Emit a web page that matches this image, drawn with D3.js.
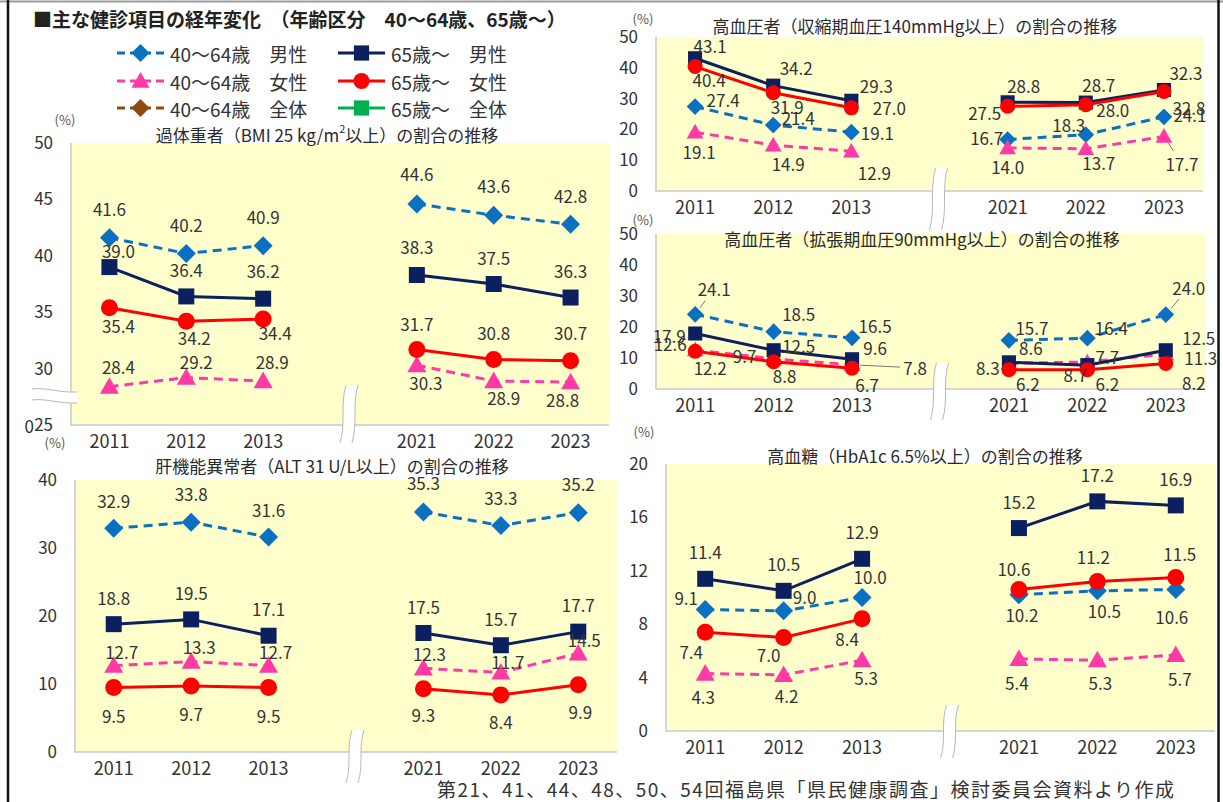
<!DOCTYPE html>
<html lang="ja">
<head>
<meta charset="UTF-8">
<title>主な健診項目の経年変化</title>
<style>
body{margin:0;background:#fff;}
svg{display:block;font-family:"Noto Sans CJK JP","Noto Sans",sans-serif;}
</style>
</head>
<body>
<script src="https://cdn.jsdelivr.net/npm/d3@7/dist/d3.min.js"></script>
<script>
// ---- data ----
var years=["2011","2012","2013","2021","2022","2023"];
var xSlots=["2011","2012","2013","gap","2021","2022","2023"];

var legendLabels=["40～64歳　男性","65歳～　男性","40～64歳　女性","65歳～　女性","40～64歳　全体","65歳～　全体"];

var bmiMale4064=[41.6,40.2,40.9,44.6,43.6,42.8];
var bmiMale65=[39.0,36.4,36.2,38.3,37.5,36.3];
var bmiFemale4064=[28.4,29.2,28.9,30.3,28.9,28.8];
var bmiFemale65=[35.4,34.2,34.4,31.7,30.8,30.7];
var bmiTicks=[25,30,35,40,45,50];

var sbpMale4064=[27.4,21.4,19.1,16.7,18.3,24.1];
var sbpMale65=[43.1,34.2,29.3,28.8,28.7,32.8];
var sbpFemale4064=[19.1,14.9,12.9,14.0,13.7,17.7];
var sbpFemale65=[40.4,31.9,27.0,27.5,28.0,32.3];
var sbpTicks=[0,10,20,30,40,50];

var dbpMale4064=[24.1,18.5,16.5,15.7,16.4,24.0];
var dbpMale65=[17.9,12.5,9.6,8.6,7.7,12.5];
var dbpFemale4064=[12.6,9.7,7.8,8.3,8.7,11.3];
var dbpFemale65=[12.2,8.8,6.7,6.2,6.2,8.2];
var dbpTicks=[0,10,20,30,40,50];

var altMale4064=[32.9,33.8,31.6,35.3,33.3,35.2];
var altMale65=[18.8,19.5,17.1,17.5,15.7,17.7];
var altFemale4064=[12.7,13.3,12.7,12.3,11.7,14.5];
var altFemale65=[9.5,9.7,9.5,9.3,8.4,9.9];
var altTicks=[0,10,20,30,40];

var hbaMale4064=[9.1,9.0,10.0,10.2,10.5,10.6];
var hbaMale65=[11.4,10.5,12.9,15.2,17.2,16.9];
var hbaFemale4064=[4.3,4.2,5.3,5.4,5.3,5.7];
var hbaFemale65=[7.4,7.0,8.4,10.6,11.2,11.5];
var hbaTicks=[0,4,8,12,16,20];

var mainTitle="■主な健診項目の経年変化　（年齢区分　40～64歳、65歳～）";
var footNote="第21、41、44、48、50、54回福島県「県民健康調査」検討委員会資料より作成";

// ---- styles ----
var styles={
	m4064:{color:"#0b6fc2",dash:"9,6",shape:"diamond"},
	m65:{color:"#0c1f5e",dash:null,shape:"square"},
	f4064:{color:"#ff3aa6",dash:"9,6",shape:"triangle"},
	f65:{color:"#ff0000",dash:null,shape:"circle"},
	t4064:{color:"#8f4a12",dash:"9,6",shape:"diamond"},
	t65:{color:"#00b050",dash:null,shape:"square"}
};
var legendKeys=["m4064","m65","f4064","f65","t4064","t65"];
var drawOrder=["m4064","f4064","m65","f65"];
var textColor="#333";

function markerPath(shape,k){
	k=k||1;
	if(shape=="diamond"){var a=9.5*k;return "M0,"+(-a)+"L"+a+",0L0,"+a+"L"+(-a)+",0Z";}
	if(shape=="square"){var s=8*k;return "M"+(-s)+","+(-s)+"H"+s+"V"+s+"H"+(-s)+"Z";}
	if(shape=="triangle"){var t=9.5*k;return "M0,"+(-t)+"L"+t+","+(t*0.75)+"L"+(-t)+","+(t*0.75)+"Z";}
	var r=8.5*k;
	return "M"+r+",0A"+r+","+r+" 0 1,1 "+(-r)+",0A"+r+","+r+" 0 1,1 "+r+",0Z";
}

var svg=d3.select("body").append("svg")
	.attr("width",1223)
	.attr("height",802);

svg.append("rect").attr("width",1223).attr("height",802).attr("fill","#fff");

// ---- panels ----
var panels=[
	{
		left:71,right:609,top:143,bottom:425,domain:[25,50],ticks:bmiTicks,
		title:["過体重者（BMI 25 kg/m","2","以上）の割合の推移"],titleX:327,titleY:134,
		pctX:65,pctY:119,brk:[-40,18],mk:1,
		series:{m4064:bmiMale4064,m65:bmiMale65,f4064:bmiFemale4064,f65:bmiFemale65},
		offsets:{
			m4064:[[0,-29],[0,-29],[0,-29],[0,-30],[0,-30],[0,-29]],
			m65:[[9,-17],[0,-27],[0,-28],[0,-28],[0,-27],[0,-27]],
			f65:[[9,18],[8,16],[12,14],[0,-26],[0,-27],[0,-28]],
			f4064:[[9,-20],[10,-16],[9,-20],[9,17],[10,16],[-8,17]]
		},
		leaders:{}
	},
	{
		left:75,right:617,top:480,bottom:752,domain:[0,40],ticks:altTicks,
		title:["肝機能異常者（ALT 31 U/L以上）の割合の推移"],titleX:332,titleY:465,
		pctX:55,pctY:442,brk:[-22,31],mk:1,
		series:{m4064:altMale4064,m65:altMale65,f4064:altFemale4064,f65:altFemale65},
		offsets:{
			m4064:[[0,-28],[0,-29],[0,-28],[0,-29],[0,-28],[0,-29]],
			m65:[[0,-27],[0,-27],[0,-27],[0,-27],[0,-27],[0,-27]],
			f4064:[[8,-14],[8,-15],[7,-14],[6,-15],[7,-11],[6,-14]],
			f65:[[0,28],[0,27],[0,28],[0,26],[0,27],[2,27]]
		},
		leaders:{}
	},
	{
		left:656,right:1203,top:37,bottom:191,domain:[0,50],ticks:sbpTicks,
		title:["高血圧者（収縮期血圧140mmHg以上）の割合の推移"],titleX:915,titleY:25,
		pctX:643,pctY:18,brk:[-23,39],mk:0.88,
		series:{m4064:sbpMale4064,m65:sbpMale65,f4064:sbpFemale4064,f65:sbpFemale65},
		offsets:{
			m65:[[15,-13],[23,-18],[25,-15],[16,-17],[13,-18],[25,18]],
			f65:[[14,13],[14,14],[38,0],[-23,6],[27,5],[22,-19]],
			m4064:[[28,-7],[25,-8],[26,0],[-21,-2],[-17,-10],[26,-2]],
			f4064:[[4,19],[15,18],[23,21],[0,19],[13,14],[18,27]]
		},
		leaders:{f4064:[5]}
	},
	{
		left:656,right:1205,top:234,bottom:389,domain:[0,50],ticks:dbpTicks,
		title:["高血圧者（拡張期血圧90mmHg以上）の割合の推移"],titleX:922,titleY:238,
		pctX:643,pctY:219,brk:[-26,31],mk:0.88,
		series:{m4064:dbpMale4064,m65:dbpMale65,f4064:dbpFemale4064,f65:dbpFemale65},
		offsets:{
			m4064:[[19,-26],[25,-18],[23,-12],[23,-13],[24,-11],[23,-27]],
			m65:[[-26,2],[25,-5],[23,-12],[22,-15],[20,-9],[33,-13]],
			f4064:[[-25,-6],[-29,-3],[63,3],[-21,4],[-12,12],[35,4]],
			f65:[[15,16],[11,14],[15,16],[19,14],[20,14],[28,19]]
		},
		leaders:{m4064:[0,3,4,5],f4064:[2]}
	},
	{
		left:666,right:1215,top:464,bottom:731,domain:[0,20],ticks:hbaTicks,
		title:["高血糖（HbA1c 6.5%以上）の割合の推移"],titleX:925,titleY:455,
		pctX:644,pctY:431,brk:[-26,27],mk:1,
		series:{m4064:hbaMale4064,m65:hbaMale65,f4064:hbaFemale4064,f65:hbaFemale65},
		offsets:{
			m65:[[0,-27],[0,-27],[0,-27],[0,-27],[0,-27],[0,-27]],
			m4064:[[-19,-12],[21,-14],[8,-21],[3,20],[7,20],[-4,27]],
			f65:[[-14,19],[-15,17],[-15,20],[-5,-21],[-4,-25],[4,-24]],
			f4064:[[-2,23],[3,21],[4,17],[-2,24],[3,22],[4,24]]
		},
		leaders:{}
	}
];

function xBreak(g,xc,y1,y2){
	var h=y2-y1;
	var l="M"+(xc-2)+","+y1+"C"+(xc-8)+","+(y1+h*0.35)+" "+(xc-2)+","+(y1+h*0.65)+" "+(xc-8)+","+y2;
	var r="M"+(xc+10)+","+y1+"C"+(xc+4)+","+(y1+h*0.35)+" "+(xc+10)+","+(y1+h*0.65)+" "+(xc+4)+","+y2;
	var fill=l+"L"+(xc+4)+","+y2+"C"+(xc+10)+","+(y1+h*0.65)+" "+(xc+4)+","+(y1+h*0.35)+" "+(xc+10)+","+y1+"Z";
	g.append("path").attr("d",fill).attr("fill","#fff");
	g.append("path").attr("d",l).attr("fill","none").attr("stroke","#b8b8b8").attr("stroke-width",1);
	g.append("path").attr("d",r).attr("fill","none").attr("stroke","#b8b8b8").attr("stroke-width",1);
}

panels.forEach(function(p){
	var g=svg.append("g");
	var x=d3.scaleBand().domain(xSlots).range([p.left,p.right]);
	var y=d3.scaleLinear().domain(p.domain).range([p.bottom,p.top]);
	var cx=function(i){return x(years[i])+x.bandwidth()/2;};

	g.append("rect")
		.attr("x",p.left).attr("y",p.top)
		.attr("width",p.right-p.left).attr("height",p.bottom-p.top)
		.attr("fill","#ffffcc");
	g.append("path")
		.attr("d","M"+p.left+","+p.top+"V"+p.bottom+"H"+p.right)
		.attr("fill","none").attr("stroke","#c9c9c9").attr("stroke-width",1.5);

	var yAxis=g.append("g")
		.attr("transform","translate("+p.left+",0)")
		.call(d3.axisLeft(y).tickValues(p.ticks).tickSize(0).tickPadding(18).tickFormat(d3.format("d")));
	yAxis.select(".domain").remove();
	yAxis.selectAll("text").attr("font-family","Noto Sans CJK JP").attr("font-size",17).attr("fill",textColor);

	var xAxis=g.append("g")
		.attr("transform","translate(0,"+p.bottom+")")
		.call(d3.axisBottom(x).tickValues(years).tickSize(0).tickPadding(10));
	xAxis.select(".domain").remove();
	xAxis.selectAll("text").attr("font-family","Noto Sans CJK JP").attr("font-size",18).attr("fill",textColor);

	xBreak(g,x("gap")+x.bandwidth()/2+8,p.bottom+p.brk[0],p.bottom+p.brk[1]);

	var t=g.append("text")
		.attr("x",p.titleX).attr("y",p.titleY)
		.attr("text-anchor","middle").attr("dominant-baseline","central")
		.attr("font-size",17).attr("fill","#2a2a2a");
	t.append("tspan").text(p.title[0]);
	if(p.title.length>1){
		t.append("tspan").attr("font-size",11).attr("dy",-6).text(p.title[1]);
		t.append("tspan").attr("dy",6).text(p.title[2]);
	}

	g.append("text")
		.attr("x",p.pctX).attr("y",p.pctY)
		.attr("text-anchor","middle").attr("dominant-baseline","central")
		.attr("font-size",13).attr("fill","#555")
		.text("(%)");

	drawOrder.forEach(function(key){
		var st=styles[key];
		var vals=p.series[key];
		var line=d3.line().x(function(d){return cx(d);}).y(function(d){return y(vals[d]);});
		[[0,1,2],[3,4,5]].forEach(function(seg){
			g.append("path")
				.attr("d",line(seg))
				.attr("fill","none")
				.attr("stroke",st.color)
				.attr("stroke-width",3)
				.attr("stroke-dasharray",st.dash);
		});
		g.selectAll(null)
			.data(vals)
			.enter()
			.append("path")
			.attr("d",markerPath(st.shape,p.mk))
			.attr("transform",function(d,i){return "translate("+cx(i)+","+y(d)+")";})
			.attr("fill",st.color);
	});

	drawOrder.forEach(function(key){
		var vals=p.series[key];
		var off=p.offsets[key];
		var lead=p.leaders[key]||[];
		lead.forEach(function(i){
			var dx=off[i][0],dy=off[i][1];
			var len=Math.sqrt(dx*dx+dy*dy);
			var ux=dx/len,uy=dy/len;
			g.append("line")
				.attr("x1",cx(i)+ux*8).attr("y1",y(vals[i])+uy*8)
				.attr("x2",cx(i)+ux*(len-15)).attr("y2",y(vals[i])+uy*(len-15))
				.attr("stroke","#777").attr("stroke-width",1);
		});
		g.selectAll(null)
			.data(vals)
			.enter()
			.append("text")
			.attr("x",function(d,i){return cx(i)+off[i][0];})
			.attr("y",function(d,i){return y(d)+off[i][1];})
			.attr("text-anchor","middle")
			.attr("dominant-baseline","central")
			.attr("font-size",17)
			.attr("fill",textColor)
			.text(function(d){return d3.format(".1f")(d);});
	});
});

// y-axis break on BMI panel and the stray "0" at its bottom
var bmi=panels[0];
svg.append("path")
	.attr("d","M32,389C45,387 60,393 77,392L77,403C60,404 45,399 32,400Z")
	.attr("fill","#fff");
svg.append("path")
	.attr("d","M32,389C45,387 60,393 77,392")
	.attr("fill","none").attr("stroke","#b8b8b8");
svg.append("path")
	.attr("d","M32,400C45,398 60,404 77,403")
	.attr("fill","none").attr("stroke","#b8b8b8");
svg.append("text")
	.attr("x",bmi.left-37).attr("y",bmi.bottom)
	.attr("text-anchor","end").attr("dominant-baseline","central")
	.attr("font-size",17).attr("fill",textColor)
	.text("0");

// ---- title and legend ----
svg.append("text")
	.attr("x",33).attr("y",18)
	.attr("dominant-baseline","central")
	.attr("font-size",19).attr("font-weight","bold").attr("fill","#222")
	.text(mainTitle);

var colX=[117,338],rowY=[53,81,108];
legendKeys.forEach(function(key,i){
	var st=styles[key];
	var lx=colX[i%2],ly=rowY[Math.floor(i/2)];
	svg.append("line")
		.attr("x1",lx).attr("x2",lx+47).attr("y1",ly).attr("y2",ly)
		.attr("stroke",st.color).attr("stroke-width",3)
		.attr("stroke-dasharray",st.dash?"8,5":null);
	svg.append("path")
		.attr("d",markerPath(st.shape,0.95))
		.attr("transform","translate("+(lx+23.5)+","+ly+")")
		.attr("fill",st.color);
	svg.append("text")
		.attr("x",lx+53).attr("y",ly)
		.attr("dominant-baseline","central")
		.attr("font-size",19).attr("fill",textColor)
		.text(legendLabels[i]);
});

svg.append("text")
	.attr("x",437).attr("y",788)
	.attr("dominant-baseline","central")
	.attr("font-size",19).attr("fill",textColor)
	.attr("textLength",737).attr("lengthAdjust","spacing")
	.text(footNote);

// ---- frame ----
svg.append("line").attr("x1",0).attr("x2",1223).attr("y1",1.5).attr("y2",1.5).attr("stroke","#9a9a9a").attr("stroke-width",2);
svg.append("line").attr("x1",8).attr("x2",8).attr("y1",0).attr("y2",802).attr("stroke","#111").attr("stroke-width",2.5);
svg.append("line").attr("x1",1218.5).attr("x2",1218.5).attr("y1",0).attr("y2",802).attr("stroke","#111").attr("stroke-width",2.5);
</script>
</body>
</html>
